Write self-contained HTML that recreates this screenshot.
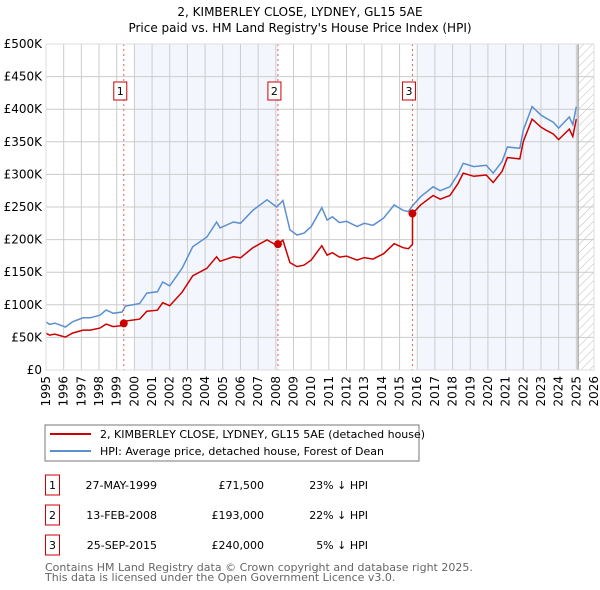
<!DOCTYPE html>
<html><head><meta charset="utf-8"><style>
body{margin:0;background:#fff}
svg{display:block;font-family:"DejaVu Sans","Liberation Sans",sans-serif}
</style></head><body>
<svg id="c" width="600" height="590" viewBox="0 0 600 590">
<defs><pattern id="hatch" width="6" height="6" patternUnits="userSpaceOnUse" patternTransform="rotate(45)"><line x1="0" y1="0" x2="0" y2="6" stroke="#bbb" stroke-width="1"/></pattern></defs>
<text x="300" y="16" text-anchor="middle" font-size="12">2, KIMBERLEY CLOSE, LYDNEY, GL15 5AE</text>
<text x="300" y="32" text-anchor="middle" font-size="12">Price paid vs. HM Land Registry's House Price Index (HPI)</text>
<g id="plot"></g>
<rect x="45" y="425" width="374" height="36" fill="#fff" stroke="#777"/>
<line x1="50" y1="434" x2="91" y2="434" stroke="#cc0000" stroke-width="2"/>
<text x="100" y="438" font-size="11">2, KIMBERLEY CLOSE, LYDNEY, GL15 5AE (detached house)</text>
<line x1="50" y1="451" x2="91" y2="451" stroke="#5b8fd0" stroke-width="2"/>
<text x="100" y="455" font-size="11">HPI: Average price, detached house, Forest of Dean</text>
<g id="table" font-size="11"></g>
<text x="45" y="571" font-size="11" fill="#666">Contains HM Land Registry data © Crown copyright and database right 2025.</text>
<text x="45" y="581" font-size="11" fill="#666">This data is licensed under the Open Government Licence v3.0.</text>
</svg>
<script>
const hpiYears=[1995.0,1995.2,1995.5,1996.1,1996.5,1997.1,1997.5,1998.05,1998.4,1998.8,1999.3,1999.5,2000.3,2000.7,2001.3,2001.6,2002.0,2002.7,2003.3,2004.1,2004.65,2004.85,2005.6,2006.0,2006.7,2007.5,2008.05,2008.4,2008.8,2009.2,2009.6,2010.0,2010.6,2010.9,2011.2,2011.6,2012.0,2012.6,2013.0,2013.5,2014.1,2014.7,2015.2,2015.5,2015.73,2016.2,2016.9,2017.3,2017.85,2018.3,2018.6,2019.2,2019.9,2020.3,2020.8,2021.1,2021.8,2022.0,2022.5,2023.0,2023.3,2023.7,2024.0,2024.6,2024.8,2025.0];
const hpiValues=[74,70,72,66,74,80,80,84,92,87,89,98,102,118,120,135,129,156,189,204,227,218,227,225,245,261,250,260,215,207,210,220,249,230,235,226,228,220,225,222,233,253,245,243,252,266,281,275,281,300,317,312,314,302,320,342,340,368,404,391,386,380,371,388,376,404];
const saleYears=[1999.4,2008.12,2015.73];
const salePrices=[71.5,193,240];
const saleLabels=["1","2","3"];
const saleDates=["27-MAY-1999","13-FEB-2008","25-SEP-2015"];
const salePriceText=["£71,500","£193,000","£240,000"];
const salePct=["23% ↓ HPI","22% ↓ HPI","5% ↓ HPI"];
const yTicks=[0,50,100,150,200,250,300,350,400,450,500];
const yTickLabels=["£0","£50K","£100K","£150K","£200K","£250K","£300K","£350K","£400K","£450K","£500K"];
const xTicks=[1995,1996,1997,1998,1999,2000,2001,2002,2003,2004,2005,2006,2007,2008,2009,2010,2011,2012,2013,2014,2015,2016,2017,2018,2019,2020,2021,2022,2023,2024,2025,2026];

const NS="http://www.w3.org/2000/svg";
const L=46,R=594,T=44,B=370,X0=1995,X1=2026,Y1=500;
const xs=v=>L+(v-X0)/(X1-X0)*(R-L);
const ys=v=>B-v/Y1*(B-T);
const plot=document.getElementById('plot');
function mk(tag,attrs,parent){const e=document.createElementNS(NS,tag);for(const k in attrs)e.setAttribute(k,attrs[k]);(parent||plot).appendChild(e);return e;}
function hpiAt(t){for(let i=0;i<hpiYears.length-1;i++){if(t<=hpiYears[i+1]){const f=(t-hpiYears[i])/(hpiYears[i+1]-hpiYears[i]);return hpiValues[i]+f*(hpiValues[i+1]-hpiValues[i]);}}return hpiValues[hpiValues.length-1];}

let e=mk('rect',{x:xs(2000),y:T,width:xs(2008.12)-xs(2000),height:B-T,fill:'#eef3fc',opacity:0.7});


e=mk('rect',{x:xs(2016),y:T,width:xs(2025.1)-xs(2016),height:B-T,fill:'#eef3fc',opacity:0.7});


e=mk('rect',{x:xs(2025.1),y:T,width:R-xs(2025.1),height:B-T,fill:'url(#hatch)'});



yTicks.forEach((v,i)=>{
  const g=mk('line',{x1:L,x2:R,y1:ys(v),y2:ys(v),stroke:'#ccc','stroke-width':1});
  
  
  const t=mk('text',{x:L-4,y:ys(v)+4,'text-anchor':'end','font-size':12});
  t.textContent=yTickLabels[i];
  
  
});
xTicks.forEach(v=>{
  const g=mk('line',{x1:xs(v),x2:xs(v),y1:T,y2:B,stroke:'#ccc','stroke-width':1});
  
  
  const t=mk('text',{x:0,y:0,'font-size':12,'text-anchor':'end',transform:`translate(${xs(v)+4},${B+6}) rotate(-90)`});
  t.textContent=v;
  
  
});
e=mk('line',{x1:xs(2025.1),x2:xs(2025.1),y1:T,y2:B,stroke:'#999','stroke-width':1.2});



saleYears.forEach((y,i)=>{
  const l=mk('line',{x1:xs(y),x2:xs(y),y1:T,y2:B,stroke:'#e06060','stroke-dasharray':'2,3','stroke-width':1});
  
  
  const b=mk('rect',{x:xs(y)-10,y:82,width:13,height:18,fill:'#fff',stroke:'#cc0000'});
  
  
  const t=mk('text',{x:xs(y)-3.5,y:95,'text-anchor':'middle','font-size':11});
  t.textContent=saleLabels[i];
  
  
});

// HPI line
let dH='';hpiYears.forEach((y,i)=>{dH+=(i?'L':'M')+xs(y).toFixed(1)+','+ys(hpiValues[i]).toFixed(1);});
e=mk('path',{d:dH,fill:'none',stroke:'#5b8fd0','stroke-width':1.5});


// property line: HPI scaled by latest sale
const ratios=saleYears.map((y,i)=>salePrices[i]/hpiAt(y));
const pts=[];
hpiYears.forEach((y,i)=>{
  saleYears.forEach((s,j)=>{ if(s>(i?hpiYears[i-1]:0)&&s<=y){ const rPrev=j?ratios[j-1]:ratios[0]; pts.push([s,hpiAt(s)*rPrev]); pts.push([s,salePrices[j]]);} });
  let k=0;for(let j=0;j<saleYears.length;j++)if(saleYears[j]<=y)k=j;
  pts.push([y,hpiValues[i]*ratios[k]]);
});
let dP='';pts.forEach((p,i)=>{dP+=(i?'L':'M')+xs(p[0]).toFixed(1)+','+ys(p[1]).toFixed(1);});
e=mk('path',{d:dP,fill:'none',stroke:'#cc0000','stroke-width':1.5});


saleYears.forEach((y,i)=>{
  const c=mk('circle',{cx:xs(y),cy:ys(salePrices[i]),r:4,fill:'#cc0000'});
  
  
});
e=mk('rect',{x:L,y:T,width:R-L,height:B-T,fill:'none',stroke:'#ddd'});



const tb=document.getElementById('table');
saleYears.forEach((y,i)=>{
  const top=475+i*30;
  const b=mk('rect',{x:45.5,y:top,width:14,height:20,fill:'#fff',stroke:'#cc0000'},tb);
  
  
  const vals=[[52.5,saleLabels[i],'middle'],[157,saleDates[i],'end'],[264,salePriceText[i],'end'],[368,salePct[i],'end']];
  const names=['sale-row-number','sale-row-date','sale-row-price','sale-row-hpi-diff'];
  vals.forEach((v,k)=>{
    const t=mk('text',{x:v[0],y:top+14,'text-anchor':v[2]},tb);
    t.textContent=v[1];
    
    
  });
});
</script>
</body></html>
